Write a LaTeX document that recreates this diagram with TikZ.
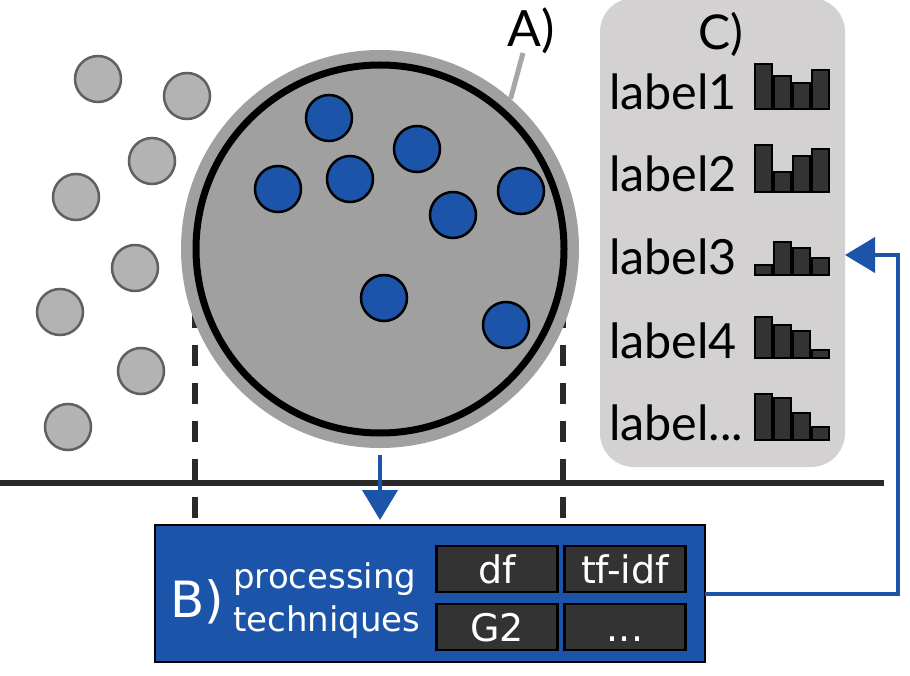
\documentclass[tikz,border=0pt]{standalone}
\usepackage{fontspec}
\newfontfamily\latofont{Lato}
\newfontfamily\dvfont{DejaVu Sans}
\usetikzlibrary{arrows.meta}
\definecolor{bblue}{RGB}{27,84,168}
\definecolor{bigray}{RGB}{160,160,160}
\definecolor{dotgray}{RGB}{179,179,179}
\definecolor{dotedge}{RGB}{96,96,96}
\definecolor{panelgray}{RGB}{211,209,210}
\definecolor{bargray}{RGB}{51,51,51}
\definecolor{darkline}{RGB}{43,41,41}
\definecolor{leadgray}{RGB}{166,166,166}
\tikzset{
  graydot/.style={fill=dotgray,draw=dotedge,line width=2.5pt},
  bluedot/.style={fill=bblue,draw=black,line width=2.5pt},
  dashline/.style={draw=darkline,line width=6pt,dash pattern=on 21pt off 17pt},
  barbox/.style={fill=bargray,draw=black,line width=2.5pt},
  lbl/.style={font=\latofont\fontsize{48.5}{58}\selectfont,anchor=base west,inner sep=0pt,outer sep=0pt},
  techbox/.style={rectangle,fill=bargray,draw=black,line width=2.5pt,minimum width=121pt,minimum height=46pt,inner sep=0pt,text=white,font=\dvfont\fontsize{38}{44}\selectfont,text height=28pt,text depth=0pt},
  bluearrow/.style={draw=bblue,line width=4pt,-{Triangle[length=30pt,width=35pt]}},
}
\begin{document}
\begin{tikzpicture}[x=1pt,y=-1pt]
\useasboundingbox (0,0) rectangle (910,676);
% panel C
\node[rectangle,rounded corners=34pt,fill=panelgray,minimum width=245pt,minimum height=469pt,inner sep=0pt,outer sep=0pt] (C) at (722.5,232.5) {};
% horizontal line
\draw[draw=darkline,line width=5.5pt] (0,483) -- (884,483);
% dashed lines
\draw[dashline] (195,307) -- (195,520);
\draw[dashline] (563,307) -- (563,520);
% gray dots
\foreach \x/\y in {98/79,187/96,152/161,76/197,135/268,60/312,141/371,68/427}
  \draw[graydot] (\x,\y) circle[radius=23pt];
% big circle
\node[circle,fill=bigray,minimum size=398pt,inner sep=0pt,outer sep=0pt] (A) at (380,249) {};
\draw[line width=7pt] (A.center) circle[radius=184pt];
\foreach \x/\y in {329/118,417/149,350/179,278/189,521/191,453/215,384/298,506/325}
  \draw[bluedot] (\x,\y) circle[radius=23pt];
% A) label
\node[font=\latofont\fontsize{50}{60}\selectfont,anchor=base west,inner sep=0pt] (Alab) at (507,47) {A)};
\coordinate (Aend) at (523,53);
\draw[draw=leadgray,line width=5pt] (A.49) -- (Aend);
% box B
\node[rectangle,fill=bblue,draw=black,line width=2.5pt,minimum width=550pt,minimum height=137pt,inner sep=0pt,outer sep=0pt] (B) at (430,593.5) {};
\draw[bluearrow] ([yshift=-7pt]A.south) -- ([yshift=5pt]A.south |- B.north);
\node[font=\dvfont\fontsize{50}{60}\selectfont,text=white,anchor=base west,inner sep=0pt] (Blab) at (170,617) {B)};
\node[font=\dvfont\fontsize{34}{43}\selectfont,text=white,anchor=base west,inner sep=0pt] (Btxt) at (233,588) {\begin{tabular}[t]{@{}l@{}}processing\\techniques\end{tabular}};
\node[techbox] (df) at (497,569) {df};
\node[techbox] (tfidf) at (625,569) {tf-idf};
\node[techbox] (g2) at (497,627) {G2};
\node[techbox] (more) at (625,627) {...};
% right connector
\coordinate (c3) at (845,255);
\coordinate (r) at (898,0);
\draw[bluearrow] (B.east) -| (r |- c3) -- (c3);
% C panel text
\node[font=\latofont\fontsize{48}{58}\selectfont,anchor=base,inner sep=0pt] (Clab) at (721,50) {C)};
\node[lbl] (l1) at (609,110) {label1};
\node[lbl] (l2) at (609,192) {label2};
\node[lbl] (l3) at (609,275) {label3};
\node[lbl] (l4) at (609,358) {label4};
\node[lbl] (l5) at (609,440) {label...};
% bars
\foreach \b/\ha/\hb/\hc/\hd in {109/45/33/26/39,192/47/20/36/43,275/10/33/27/17,358/41/33/27/8,440/46/42/27/13}{
  \draw[barbox] (755,\b) rectangle (772,{\b-\ha});
  \draw[barbox] (774,\b) rectangle (791,{\b-\hb});
  \draw[barbox] (793,\b) rectangle (810,{\b-\hc});
  \draw[barbox] (812,\b) rectangle (829,{\b-\hd});
}
\end{tikzpicture}
\end{document}
